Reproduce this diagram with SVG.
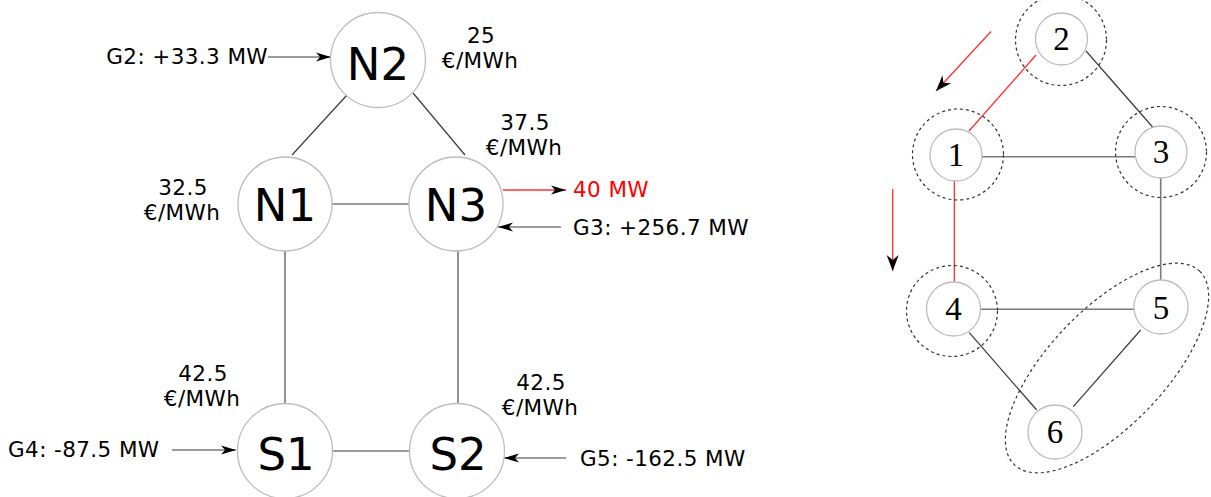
<svg xmlns="http://www.w3.org/2000/svg" width="1211" height="497" viewBox="0 0 1211 497">
<style>
.nd{fill:#fff;stroke:#bdbdbd;stroke-width:1.3}
.big{font-family:"DejaVu Sans","Liberation Sans",sans-serif;font-size:45px;fill:#000;text-anchor:middle}
.lbl{font-family:"DejaVu Sans","Liberation Sans",sans-serif;font-size:21.5px;fill:#000;letter-spacing:0.4px}
.mid{text-anchor:middle}
.red{fill:#ff0000}
.num{font-family:"Liberation Serif","DejaVu Serif",serif;font-size:33px;fill:#000;text-anchor:middle}
.ln{stroke:#3a3a3a;stroke-width:1.2;fill:none}
.lg{stroke:#7a7a7a;stroke-width:1.6;fill:none}
.lr{stroke:#ff3030;stroke-width:1.3;fill:none}
.dash{fill:none;stroke:#333;stroke-width:1.2;stroke-dasharray:3 3}
</style>
<defs>
<marker id="ah" markerUnits="userSpaceOnUse" markerWidth="18" markerHeight="12" viewBox="-16 -6 18 12" refX="0" refY="0" orient="auto">
<path d="M0,0 L-15,-4.5 L-11,0 L-15,4.5 Z" fill="#000"/>
</marker>
<marker id="st" markerUnits="userSpaceOnUse" markerWidth="20" markerHeight="14" viewBox="-18 -7 20 14" refX="0" refY="0" orient="auto">
<path d="M0,0 L-16,-6 L-11,0 L-16,6 Z" fill="#000"/>
</marker>
</defs>
<g id="connectors">
<line class="ln" x1="347" y1="95" x2="292" y2="155"/>
<line class="ln" x1="413" y1="93" x2="465" y2="155"/>
<line class="ln" x1="332" y1="204" x2="409" y2="204"/>
<line class="lg" x1="285" y1="251" x2="285" y2="404"/>
<line class="lg" x1="458" y1="251" x2="458" y2="404"/>
<line class="ln" x1="333" y1="451" x2="410" y2="451"/>
<line class="ln" x1="268" y1="57" x2="331" y2="57" marker-end="url(#ah)"/>
<line class="lr" x1="503" y1="190" x2="566" y2="190" marker-end="url(#ah)"/>
<line class="ln" x1="561" y1="227" x2="498" y2="227" marker-end="url(#ah)"/>
<line class="ln" x1="172" y1="450" x2="236" y2="450" marker-end="url(#ah)"/>
<line class="ln" x1="566" y1="458" x2="504" y2="458" marker-end="url(#ah)"/>
<line class="lr" x1="991" y1="31.5" x2="936" y2="91" marker-end="url(#st)"/>
<line class="lr" x1="892.7" y1="189" x2="892.7" y2="271" marker-end="url(#st)"/>
<line class="lr" x1="1036" y1="55" x2="969" y2="131"/>
<line class="lr" x1="954.3" y1="181" x2="954.3" y2="283"/>
<line class="ln" x1="1086" y1="51" x2="1153" y2="127.5"/>
<line class="lg" x1="982" y1="156.7" x2="1135" y2="156.7"/>
<line class="lg" x1="1160.7" y1="178" x2="1160.7" y2="280"/>
<line class="lg" x1="980" y1="309.3" x2="1134" y2="309.3"/>
<line class="ln" x1="969.3" y1="332.7" x2="1036.7" y2="410"/>
<line class="ln" x1="1140.7" y1="330" x2="1073.3" y2="406.7"/>
</g>
<g id="N2"><circle class="nd" cx="378" cy="60" r="47.5"/><text class="big" x="378" y="80">N2</text></g>
<g id="N1"><circle class="nd" cx="285" cy="204" r="47"/><text class="big" x="285" y="221">N1</text></g>
<g id="N3"><circle class="nd" cx="456" cy="204" r="47"/><text class="big" x="456" y="221">N3</text></g>
<g id="S1"><circle class="nd" cx="285" cy="451" r="47.5"/><text class="big" x="286" y="470">S1</text></g>
<g id="S2"><circle class="nd" cx="457" cy="451" r="47.5"/><text class="big" x="458" y="470">S2</text></g>
<g id="labels">
<text class="lbl" x="268" y="64" text-anchor="end">G2: +33.3 MW</text>
<text class="lbl mid" x="481" y="43">25</text>
<text class="lbl mid" x="480" y="68">€/MWh</text>
<text class="lbl mid" x="525" y="130">37.5</text>
<text class="lbl mid" x="524" y="155">€/MWh</text>
<text class="lbl mid" x="183" y="195">32.5</text>
<text class="lbl mid" x="182" y="220">€/MWh</text>
<text class="lbl red" x="573" y="197">40 MW</text>
<text class="lbl" x="573" y="235">G3: +256.7 MW</text>
<text class="lbl mid" x="203" y="381">42.5</text>
<text class="lbl mid" x="202" y="406">€/MWh</text>
<text class="lbl mid" x="541" y="390">42.5</text>
<text class="lbl mid" x="540" y="415">€/MWh</text>
<text class="lbl" x="8" y="457">G4: -87.5 MW</text>
<text class="lbl" x="580" y="466">G5: -162.5 MW</text>
</g>
<g id="groups">
<circle class="dash" cx="1061" cy="40" r="45.5"/>
<circle class="dash" cx="958" cy="154.5" r="45.5"/>
<circle class="dash" cx="1161" cy="152" r="45.5"/>
<circle class="dash" cx="952" cy="311" r="45.5"/>
<ellipse class="dash" cx="1107" cy="368" rx="134" ry="58" transform="rotate(-46.3 1107 368)"/>
</g>
<g id="n1"><circle class="nd" cx="956" cy="155" r="26"/><text class="num" x="956" y="166">1</text></g>
<g id="n2"><circle class="nd" cx="1061.5" cy="39" r="26"/><text class="num" x="1061.5" y="50">2</text></g>
<g id="n3"><circle class="nd" cx="1161" cy="152" r="26"/><text class="num" x="1161" y="163">3</text></g>
<g id="n4"><circle class="nd" cx="953.5" cy="309" r="27"/><text class="num" x="953.5" y="320">4</text></g>
<g id="n5"><circle class="nd" cx="1161" cy="307" r="27"/><text class="num" x="1161" y="319">5</text></g>
<g id="n6"><circle class="nd" cx="1055" cy="432" r="27"/><text class="num" x="1055" y="443">6</text></g>
</svg>
